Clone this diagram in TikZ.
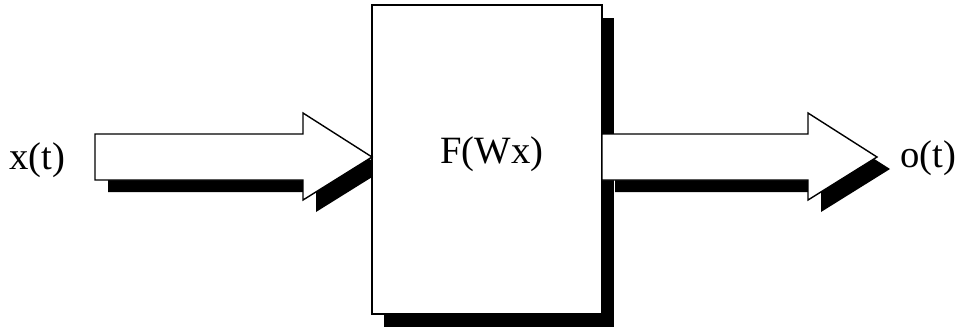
\documentclass[tikz,border=0pt]{standalone}
\usepackage{fontspec}
\setmainfont{Liberation Serif}
\tikzset{
  shade/.style={fill=black},
  block/.style={draw=black, fill=white, line width=0.8pt},
  sig/.style={font=\fontsize{22}{26}\selectfont, inner sep=0pt}
}
\begin{document}
\begin{tikzpicture}[x=0.02cm, y=-0.02cm]
	            \useasboundingbox (0,0) rectangle (957,329);
	            % shadows
	            \fill[shade] (384,18) rectangle (614,327);
	            \begin{scope}[shift={(13,12)}]
		            \fill[shade] (95,134) -- (303,134) -- (303,113) -- (372,157) -- (303,200) -- (303,180) -- (95,180) -- cycle;
		            \fill[shade] (602,134) -- (808,134) -- (808,113) -- (877,157) -- (808,200) -- (808,180) -- (602,180) -- cycle;
	            \end{scope}
	            % box and arrows
	            \draw[block] (372,5) rectangle (602,314);
	            \draw[block] (95,134) -- (303,134) -- (303,113) -- (372,157) -- (303,200) -- (303,180) -- (95,180) -- cycle;
	            \draw[block] (602,134) -- (808,134) -- (808,113) -- (877,157) -- (808,200) -- (808,180) -- (602,180) -- cycle;
	            \node[sig] at (37,160) (xin) {x(t)};
	            \node[sig] at (492,154) (fwx) {F(Wx)};
	            \node[sig] at (928,158) (oout) {o(t)};
            \end{tikzpicture}
\end{document}
